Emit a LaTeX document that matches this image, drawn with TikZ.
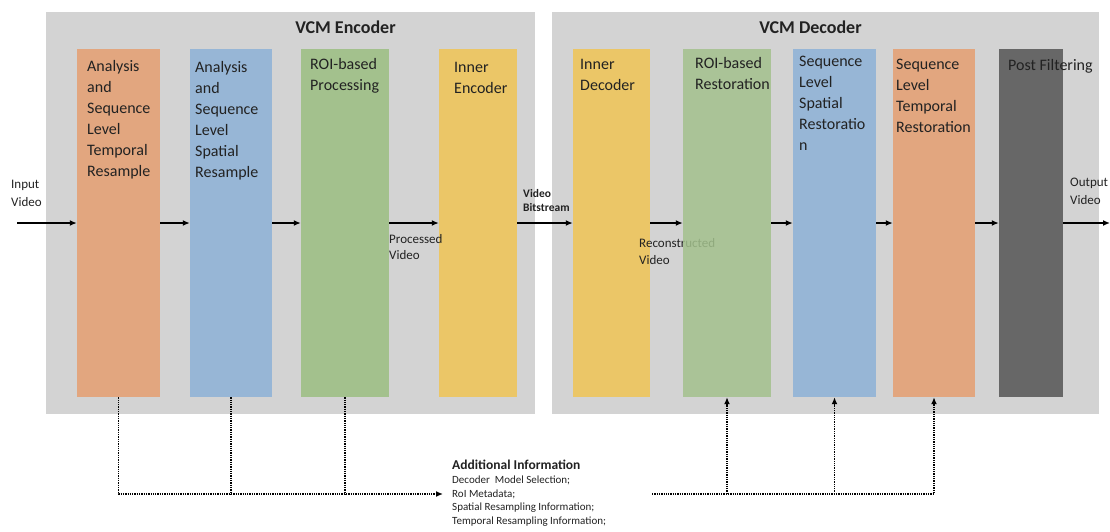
\documentclass[tikz,border=0pt]{standalone}
\usepackage{fontspec}
\setmainfont{Carlito}
\usetikzlibrary{arrows.meta}
\definecolor{bgray}{HTML}{D3D3D3}
\definecolor{corange}{HTML}{E2A67F}
\definecolor{cblue}{HTML}{97B6D6}
\definecolor{cgreen}{HTML}{A3C18D}
\definecolor{cyellow}{HTML}{EBC667}
\definecolor{cdark}{HTML}{676767}
\definecolor{txt}{HTML}{222222}
\tikzset{
  blk/.style={draw=none, minimum height=348pt, inner sep=0pt},
  area/.style={fill=bgray, draw=none},
  boxtxt/.style={anchor=north west, inner sep=0pt, align=left, text=txt, font=\fontsize{16}{21.1}\selectfont},
  lab/.style={anchor=north west, inner sep=0pt, align=left, text=txt, font=\fontsize{13}{17}\selectfont},
  flow/.style={line width=1.6pt, -{Latex[length=7pt,width=6pt]}},
  info/.style={line width=1.6pt, dash pattern=on 1.3pt off 1pt},
  infoarrow/.style={info, -{Latex[length=7pt,width=6pt]}},
  ttl/.style={inner sep=0pt, text=txt, font=\fontsize{18}{20}\selectfont\bfseries}
}
\begin{document}
\begin{tikzpicture}[x=1pt, y=-1pt]
\useasboundingbox (0,0) rectangle (1110,531);
% background areas
\fill[area] (46,12) rectangle (535,414);
\fill[area] (552,12) rectangle (1099,414);
\node[ttl] (enct) at (345.5,27) {VCM Encoder};
\node[ttl] (dect) at (810.5,27) {VCM Decoder};
% encoder blocks
\node[blk, fill=corange, minimum width=83pt] (e1) at (118.5,223) {};
\node[blk, fill=cblue,   minimum width=82pt] (e2) at (231,223) {};
\node[blk, fill=cgreen,  minimum width=88pt] (e3) at (345,223) {};
\node[blk, fill=cyellow, minimum width=78pt] (e4) at (478,223) {};
% decoder blocks
\node[blk, fill=cyellow, minimum width=77pt] (d1) at (611.5,223) {};
\node[lab] (recon) at (639,238) {Reconstructed\\Video};
\node[blk, fill=cgreen, fill opacity=0.85, minimum width=88pt] (d2) at (727,223) {};
\node[blk, fill=cblue,   minimum width=83pt] (d3) at (834.5,223) {};
\node[blk, fill=corange, minimum width=82pt] (d4) at (934,223) {};
\node[blk, fill=cdark,   minimum width=64pt] (d5) at (1031,223) {};
% block texts
\node[boxtxt] (t1) at (87,60) {Analysis\\and\\Sequence\\Level\\Temporal\\Resample};
\node[boxtxt] (t2) at (195,61) {Analysis\\and\\Sequence\\Level\\Spatial\\Resample};
\node[boxtxt] (t3) at (310,58) {ROI-based\\Processing};
\node[boxtxt] (t4) at (454,62) {Inner\\Encoder};
\node[boxtxt] (t5) at (580,59) {Inner\\Decoder};
\node[boxtxt] (t6) at (695,57) {ROI-based\\Restoration};
\node[boxtxt] (t7) at (799,56) {Sequence\\Level\\Spatial\\Restoratio\\n};
\node[boxtxt] (t8) at (896,59) {Sequence\\Level\\Temporal\\Restoration};
\node[boxtxt] (t9) at (1008,59) {Post Filtering};
% flow labels
\node[lab, font=\fontsize{13}{18}\selectfont] (inl) at (11,180) {Input\\Video};
\node[lab, font=\fontsize{13}{16.5}\selectfont] (procl) at (389,234) {Processed\\Video};
\node[lab, font=\fontsize{11.5}{14.5}\selectfont\bfseries] (bitl) at (523,189) {Video\\Bitstream};
\node[lab, font=\fontsize{13}{18}\selectfont] (outl) at (1070,178) {Output\\Video};
% flow arrows
\coordinate (inp) at (17,223);
\coordinate (outp) at (1110,223);
\draw[flow] (inp) -- (e1.west);
\draw[flow] (e1.east) -- (e2.west);
\draw[flow] (e2.east) -- (e3.west);
\draw[flow] (e3.east) -- (e4.west);
\draw[flow] (e4.east) -- (d1.west);
\draw[flow] (d1.east) -- (d2.west);
\draw[flow] (d2.east) -- (d3.west);
\draw[flow] (d3.east) -- (d4.west);
\draw[flow] (d4.east) -- (d5.west);
\draw[flow] (d5.east) -- (outp);
% additional information
\node[anchor=west, inner sep=0pt, text=txt, font=\fontsize{13.5}{15}\selectfont\bfseries] (addt) at (452,465) {Additional Information};
\node[anchor=north west, inner sep=0pt, align=left, text=txt, font=\fontsize{11}{13.8}\selectfont] (addl) at (452,475.5) {Decoder\ \ Model Selection;\\RoI Metadata;\\Spatial Resampling Information;\\Temporal Resampling Information;};
\coordinate (ain) at (443,494);
\coordinate (aout) at (652,494);
\draw[infoarrow] (e1.south) |- (ain);
\draw[info] (e2.south) -- (e2.south |- ain);
\draw[info] (e3.south) -- (e3.south |- ain);
\draw[infoarrow] (aout) -| (d4.south);
\draw[infoarrow] (d2.south |- aout) -- (d2.south);
\draw[infoarrow] (d3.south |- aout) -- (d3.south);
\end{tikzpicture}
\end{document}
